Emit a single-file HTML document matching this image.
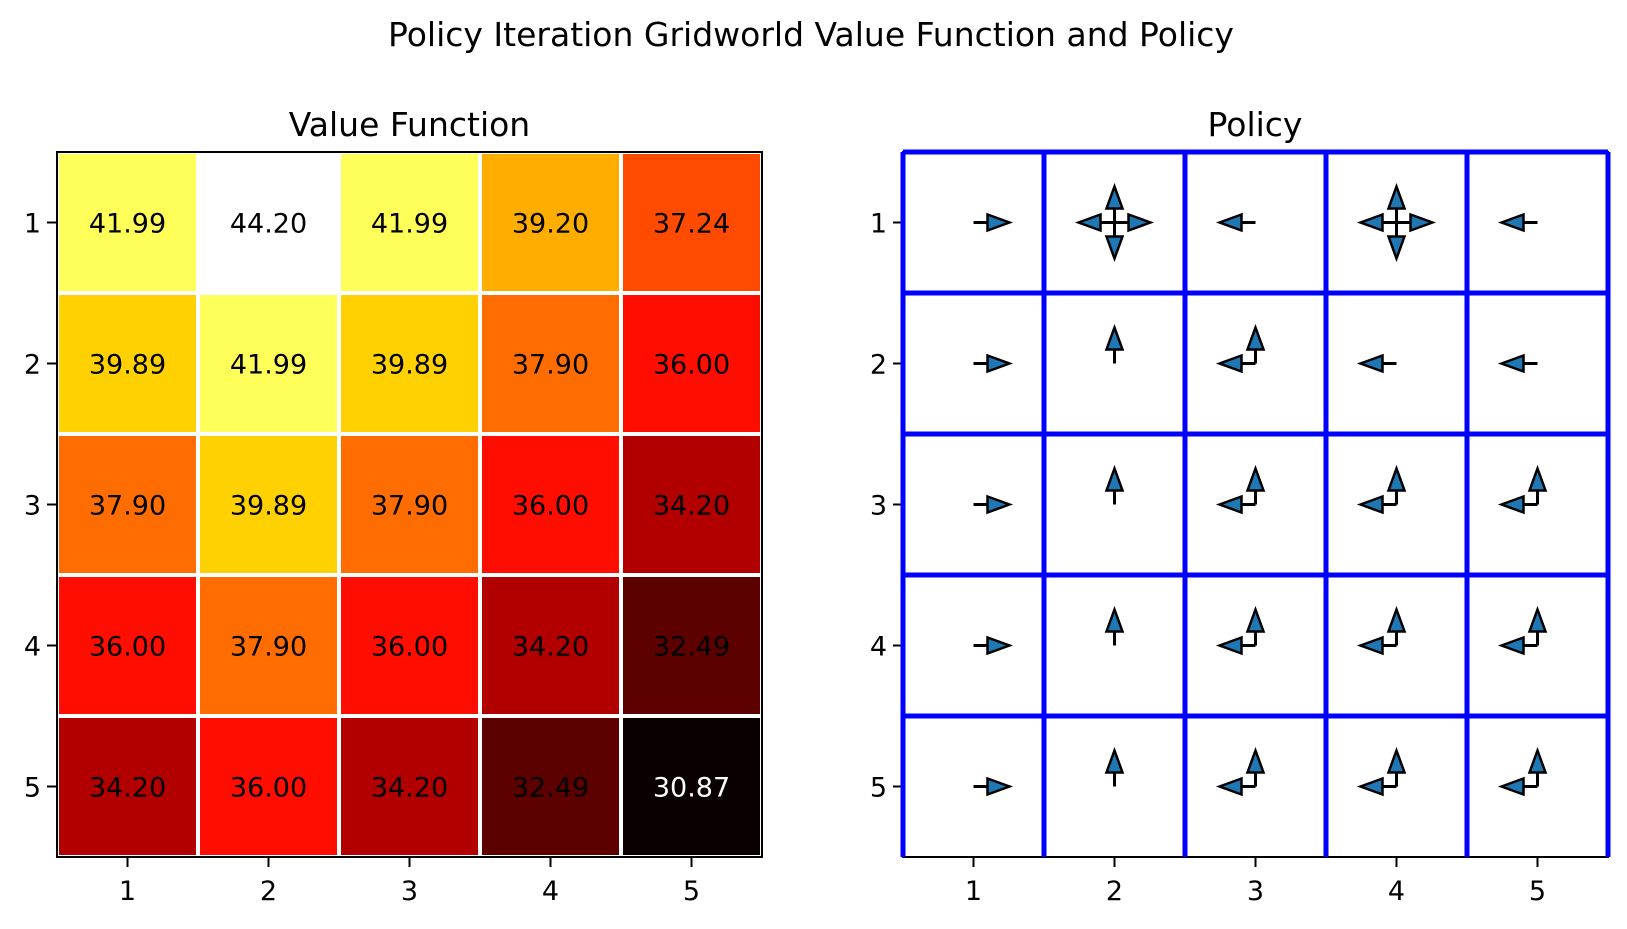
<!DOCTYPE html>
<html><head><meta charset="utf-8"><style>
body{margin:0;background:#fff}
text{font-family:"DejaVu Sans","Liberation Sans",sans-serif}
</style></head><body>
<svg id="fig" width="1627" height="924" xmlns="http://www.w3.org/2000/svg">
<rect width="1627" height="924" fill="#fff"/>
<text x="811" y="46" font-size="33" text-anchor="middle">Policy Iteration Gridworld Value Function and Policy</text>
<text x="409.5" y="136" font-size="33" text-anchor="middle">Value Function</text>
<text x="1255" y="136" font-size="33" text-anchor="middle">Policy</text>
<g id="left"></g>
<g id="right"></g>
</svg>
<script>
const rows = [1,2,3,4,5];
const cols = [1,2,3,4,5];
const values = [
 [41.99,44.20,41.99,39.20,37.24],
 [39.89,41.99,39.89,37.90,36.00],
 [37.90,39.89,37.90,36.00,34.20],
 [36.00,37.90,36.00,34.20,32.49],
 [34.20,36.00,34.20,32.49,30.87]
];
const policy = [
 ["R","URDL","L","URDL","L"],
 ["R","U","UL","L","L"],
 ["R","U","UL","UL","UL"],
 ["R","U","UL","UL","UL"],
 ["R","U","UL","UL","UL"]
];
const NS="http://www.w3.org/2000/svg";
function mk(t,a,p){const e=document.createElementNS(NS,t);for(const k in a)e.setAttribute(k,a[k]);p.appendChild(e);return e;}
const CELL=141, TOP=152;
function hot(x){const r=Math.min(1,Math.max(0,x/0.365079)),g=Math.min(1,Math.max(0,(x-0.365079)/0.380952)),b=Math.min(1,Math.max(0,(x-0.746032)/0.253968));
 return `rgb(${Math.round(r<1? (0.0416+(1-0.0416)*r)*255:255)},${Math.round(g*255)},${Math.round(b*255)})`;}
const flat=values.flat(), vmin=Math.min(...flat), vmax=Math.max(...flat);
function axes(L){
 const sx=c=>L+(c-0.5)*CELL, sy=r=>TOP+(r-0.5)*CELL;
 return {sx,sy};
}
const lg=document.getElementById('left'); const LA=57;
const A=axes(LA);
values.forEach((row,i)=>row.forEach((v,j)=>{
 const x=A.sx(cols[j])-CELL/2,y=A.sy(rows[i])-CELL/2;
 const r=mk('rect',{x:x,y:y,width:CELL,height:CELL,fill:hot((v-vmin)/(vmax-vmin)),stroke:'#fff','stroke-width':4},lg);
 
 
 const t=mk('text',{x:A.sx(cols[j]),y:A.sy(rows[i])+10,'font-size':27,'text-anchor':'middle',fill:v<31?'#fff':'#000'},lg);
 t.textContent=v.toFixed(2);
 
 
}));
const rg=document.getElementById('right'); const RA=903;
const B=axes(RA);
const dirs={U:[0,-1],D:[0,1],L:[-1,0],R:[1,0]};
policy.forEach((row,i)=>row.forEach((s,j)=>{
 const cx=B.sx(cols[j]), cy=B.sy(rows[i]);
 const g=mk('g',{},rg);
 
 
 for(const ch of s){
  const [dx,dy]=dirs[ch]; const len=36, hl=22, hw=8;
  const bx=cx+dx*(len-hl), by=cy+dy*(len-hl), tx=cx+dx*len, ty=cy+dy*len;
  mk('line',{x1:cx,y1:cy,x2:bx,y2:by,stroke:'#000','stroke-width':3},g);
  const px=-dy, py=dx;
  mk('polygon',{points:`${tx},${ty} ${bx+px*hw},${by+py*hw} ${bx-px*hw},${by-py*hw}`,fill:'#1f77b4',stroke:'#000','stroke-width':2.5},g);
 }
}));
[[LA,'left'],[RA,'right']].forEach(([L,nm])=>{
 const g=document.getElementById(nm);
 const s=mk('rect',{x:L,y:TOP,width:5*CELL,height:5*CELL,fill:'none',stroke:'#000','stroke-width':2},g);
 
 
 cols.forEach((c,j)=>{const x=L+(j+0.5)*CELL;
  mk('line',{x1:x,y1:TOP+5*CELL,x2:x,y2:TOP+5*CELL+10,stroke:'#000','stroke-width':2},g);
  const t=mk('text',{x:x,y:TOP+5*CELL+43,'font-size':27,'text-anchor':'middle'},g);t.textContent=c;
  
  });
 rows.forEach((r,i)=>{const y=TOP+(i+0.5)*CELL;
  mk('line',{x1:L-10,y1:y,x2:L,y2:y,stroke:'#000','stroke-width':2},g);
  const t=mk('text',{x:L-16,y:y+10,'font-size':27,'text-anchor':'end'},g);t.textContent=r;
  
  });
});
for(let k=0;k<=5;k++){
 const p=RA+k*CELL, q=TOP+k*CELL;
 const l1=mk('line',{x1:p,y1:TOP,x2:p,y2:TOP+5*CELL,stroke:'#0000ff','stroke-width':5},rg);
 
 
 if(k<5){
 const l2=mk('line',{x1:RA,y1:q,x2:RA+5*CELL,y2:q,stroke:'#0000ff','stroke-width':5},rg);
 
 }
}
</script>
</body></html>
